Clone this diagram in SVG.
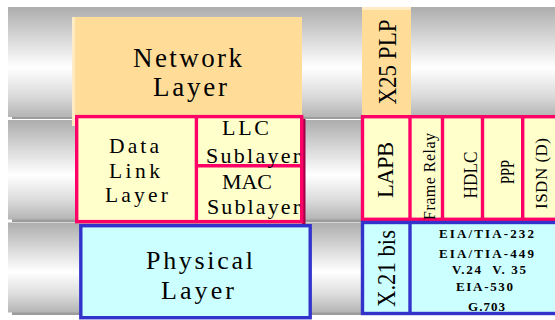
<svg xmlns="http://www.w3.org/2000/svg" width="555" height="320" viewBox="0 0 555 320">
  <defs>
    <!-- cylinder shading for the horizontal layer bands -->
    <linearGradient id="band" x1="0" y1="0" x2="0" y2="1">
      <stop offset="0" stop-color="#ADADAD"/>
      <stop offset="0.3" stop-color="#DADADA"/>
      <stop offset="0.55" stop-color="#FFFFFF"/>
      <stop offset="0.8" stop-color="#DCDCDC"/>
      <stop offset="1" stop-color="#B4B4B4"/>
    </linearGradient>
  </defs>
  <style>
    .shadow { fill: #9C9C9C; }
    .band { fill: url(#band); }
    .orange { fill: #FFDD99; }
    .hilite { fill: #FFEBC4; }
    .dl { fill: #FFFFCC; stroke: #FF0066; stroke-width: 3.4; }
    .dlline { stroke: #FF0066; stroke-width: 3.4; fill: none; }
    .ph { fill: #CCFFFF; stroke: #3333CC; stroke-width: 3.4; }
    .phline { stroke: #3333CC; stroke-width: 3.4; fill: none; }
    text { font-family: "Liberation Serif", "Times New Roman", serif; fill: #000; text-anchor: middle; }
    .bold { font-weight: bold; font-size: 13px; }
  </style>

  <!-- background bands -->
  <g id="bands">
    <rect class="shadow" x="12" y="10" width="543" height="109"/>
    <rect class="band" x="8" y="7" width="547" height="110"/>
    <rect class="shadow" x="12" y="123" width="543" height="99"/>
    <rect class="band" x="8" y="120" width="547" height="99.5"/>
    <rect class="shadow" x="12" y="225" width="543" height="90"/>
    <rect class="band" x="8" y="222.5" width="547" height="90"/>
  </g>

  <g id="connectors"/>

  <!-- OSI side -->
  <g id="network-layer">
    <rect class="orange" x="72" y="17" width="230" height="109"/>
    <rect class="hilite" x="72" y="17" width="3" height="109"/>
    <text x="187.5" y="67" font-size="27" textLength="109" lengthAdjust="spacing">Network</text>
    <text x="190" y="96" font-size="27" textLength="74" lengthAdjust="spacing">Layer</text>
  </g>

  <g id="data-link-layer">
    <rect x="302" y="119" width="3.5" height="105" fill="#A3004A"/>
    <rect class="dl" x="76.7" y="116.6" width="225" height="105"/>
    <line class="dlline" x1="196.4" y1="116.6" x2="196.4" y2="221.6"/>
    <text x="134" y="153" font-size="21.5" textLength="50" lengthAdjust="spacing">Data</text>
    <text x="134.5" y="178" font-size="21.5" textLength="51" lengthAdjust="spacing">Link</text>
    <text x="136.5" y="202" font-size="21.5" textLength="63" lengthAdjust="spacing">Layer</text>
  </g>

  <g id="llc-sublayer">
    <line class="dlline" x1="196.4" y1="165.7" x2="301.7" y2="165.7"/>
    <text x="245.5" y="135" font-size="22" textLength="47" lengthAdjust="spacing">LLC</text>
    <text x="253" y="163" font-size="22" textLength="94" lengthAdjust="spacing">Sublayer</text>
  </g>

  <g id="mac-sublayer">
    <text x="247" y="189" font-size="22" textLength="50" lengthAdjust="spacing">MAC</text>
    <text x="253.5" y="214" font-size="22" textLength="93" lengthAdjust="spacing">Sublayer</text>
  </g>

  <g id="physical-layer">
    <rect class="ph" x="80.8" y="225.7" width="229.4" height="92"/>
    <text x="199.5" y="269" font-size="26" textLength="107" lengthAdjust="spacing">Physical</text>
    <text x="197.5" y="299" font-size="26" textLength="73" lengthAdjust="spacing">Layer</text>
  </g>

  <!-- WAN protocol side -->
  <g id="x25-plp">
    <rect x="365" y="117" width="46" height="2.6" fill="#9E8862"/>
    <rect class="orange" x="362" y="7" width="49" height="110"/>
    <rect class="hilite" x="362" y="7" width="49" height="3"/>
    <text transform="translate(395.5,62) rotate(-90)" font-size="25" textLength="85" lengthAdjust="spacingAndGlyphs">X25 PLP</text>
  </g>

  <g id="wan-data-link">
    <rect class="dl" x="362.5" y="116.7" width="200" height="102.6"/>
    <line class="dlline" x1="410" y1="116.7" x2="410" y2="219.3"/>
    <line class="dlline" x1="442.5" y1="116.7" x2="442.5" y2="219.3"/>
    <line class="dlline" x1="482.5" y1="116.7" x2="482.5" y2="219.3"/>
    <line class="dlline" x1="522.7" y1="116.7" x2="522.7" y2="219.3"/>
  </g>

  <g id="lapb">
    <text transform="translate(393,170) rotate(-90)" font-size="22.5" textLength="56" lengthAdjust="spacing">LAPB</text>
  </g>
  <g id="frame-relay">
    <text transform="translate(434.5,176.5) rotate(-90)" font-size="16" textLength="87" lengthAdjust="spacing">Frame Relay</text>
  </g>
  <g id="hdlc">
    <text transform="translate(476.5,175) rotate(-90)" font-size="19" textLength="47" lengthAdjust="spacingAndGlyphs">HDLC</text>
  </g>
  <g id="ppp">
    <text transform="translate(513.5,172) rotate(-90)" font-size="18" textLength="24" lengthAdjust="spacingAndGlyphs">PPP</text>
  </g>
  <g id="isdn-d">
    <text transform="translate(547,173.5) rotate(-90)" font-size="17" textLength="71" lengthAdjust="spacing">ISDN (D)</text>
  </g>

  <g id="wan-physical">
    <rect class="ph" x="362.5" y="222.5" width="200" height="91"/>
    <line class="phline" x1="410" y1="222.5" x2="410" y2="313.5"/>
  </g>

  <g id="x21-bis">
    <text transform="translate(395,268.5) rotate(-90)" font-size="25" textLength="77" lengthAdjust="spacingAndGlyphs">X.21 bis</text>
  </g>

  <g id="physical-standards">
    <text class="bold" x="486.5" y="238" textLength="95" lengthAdjust="spacing">EIA/TIA-232</text>
    <text class="bold" x="486.5" y="258" textLength="95" lengthAdjust="spacing">EIA/TIA-449</text>
    <text class="bold" x="489" y="274" textLength="74" lengthAdjust="spacing" xml:space="preserve">V.24  V. 35</text>
    <text class="bold" x="484.5" y="291" textLength="57" lengthAdjust="spacing">EIA-530</text>
    <text class="bold" x="486.5" y="311" textLength="37" lengthAdjust="spacing">G.703</text>
  </g>
</svg>
